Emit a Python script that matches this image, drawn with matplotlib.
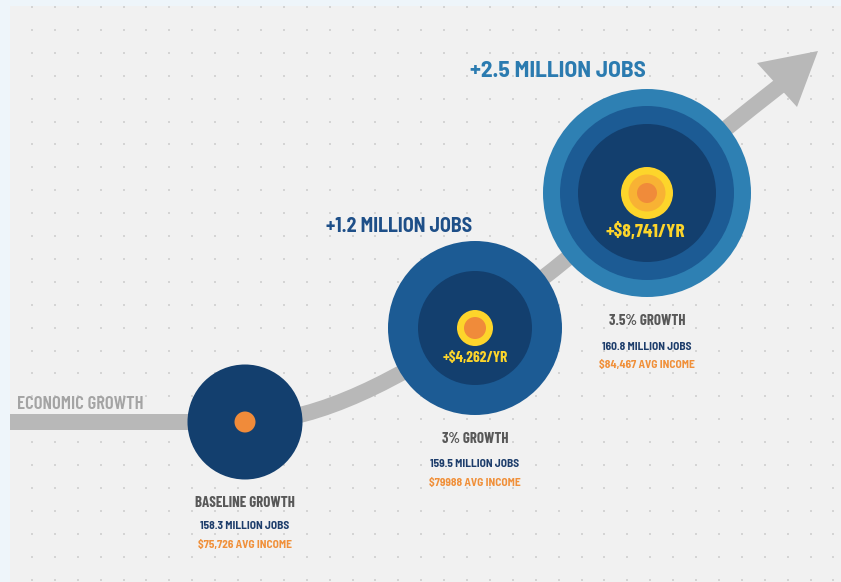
import numpy as np
import matplotlib
matplotlib.use("Agg")
import matplotlib.pyplot as plt
from matplotlib.patches import Circle, Rectangle, Polygon, PathPatch
from matplotlib.path import Path

# ---- data ----
scenarios = ["BASELINE GROWTH", "3% GROWTH", "3.5% GROWTH"]
jobs_millions = [158.3, 159.5, 160.8]
income_labels = ["$75,726", "$79988", "$84,467"]
job_gain_millions = [None, 1.2, 2.5]
income_gain = [None, 4262, 8741]
axis_label = "ECONOMIC GROWTH"

# ---- style ----
FONT = ["Barlow Condensed", "Oswald", "DejaVu Sans"]
FONT_WIDE = ["Barlow Semi Condensed", "Barlow Condensed", "DejaVu Sans"]
BG_OUTER = "#eef5fa"
BG_PANEL = "#f1f1f1"
DOT = "#d4d4d4"
ARROW = "#b8b8b8"
NAVY = "#133f6e"
MID = "#1c5b94"
LIGHT = "#2e80b3"
YELLOW = "#fdd52b"
AMBER = "#f8b234"
ORANGE = "#f08b3a"
GRAY_TXT = "#585858"
JOBS_TXT = "#1d3d6b"
INC_TXT = "#f0903a"

fig = plt.figure(figsize=(8.41, 5.82), dpi=100)
fig.patch.set_facecolor(BG_OUTER)
ax = fig.add_axes([0, 0, 1, 1])
ax.set_xlim(0, 841)
ax.set_ylim(582, 0)
ax.axis("off")

# panel and dotted grid
ax.add_patch(Rectangle((10, 6), 831, 576, facecolor=BG_PANEL, edgecolor="none", zorder=0))
gx = np.arange(32, 841, 22.9)
gy = np.arange(7, 582, 22.9)
GX, GY = np.meshgrid(gx, gy)
ax.scatter(GX.ravel(), GY.ravel(), s=1.6, color=DOT, marker="s", linewidths=0, zorder=1)

# bubble layout
centers = [(245, 422), (475, 328), (647, 193)]
rings = [
    [(57.5, NAVY), (10.5, ORANGE)],
    [(87, MID), (57, NAVY), (18, YELLOW), (11, ORANGE)],
    [(104, LIGHT), (87, MID), (69, NAVY), (26, YELLOW), (18.5, AMBER), (10, ORANGE)],
]

# growth arrow
verts = [(10, 422), (250, 422),
         (320, 421), (400, 378), centers[1],
         (540, 283), (590, 240), centers[2],
         (700, 149), (740, 117), (782, 84)]
codes = [Path.MOVETO, Path.LINETO,
         Path.CURVE4, Path.CURVE4, Path.CURVE4,
         Path.CURVE4, Path.CURVE4, Path.CURVE4,
         Path.CURVE4, Path.CURVE4, Path.CURVE4]
ax.add_patch(PathPatch(Path(verts, codes), facecolor="none", edgecolor=ARROW,
                       lw=11.5, capstyle="butt", zorder=2))
ax.add_patch(Polygon([(818, 51), (757, 63), (797, 107)], closed=True,
                     facecolor=ARROW, edgecolor="none", zorder=2))
ax.text(17, 409, axis_label, fontsize=13.6, color="#a4a4a4", fontweight="semibold",
        family=FONT, ha="left", va="baseline", zorder=7)

for (cx, cy), rr in zip(centers, rings):
    for r, c in rr:
        ax.add_patch(Circle((cx, cy), r, facecolor=c, edgecolor="none", zorder=4))

# labels below bubbles (baselines)
label_y = [(507, 529, 548), (443, 467, 486), (325, 350, 368)]
for (cx, _), name, jobs, inc, (y1, y2, y3) in zip(centers, scenarios, jobs_millions,
                                                   income_labels, label_y):
    ax.text(cx, y1, name, fontsize=10.8, color=GRAY_TXT, fontweight="bold",
            family=FONT, ha="center", va="baseline", zorder=5)
    ax.text(cx, y2, f"{jobs:.1f} MILLION JOBS", fontsize=8.2, color=JOBS_TXT,
            fontweight="bold", family=FONT_WIDE, ha="center", va="baseline", zorder=5)
    ax.text(cx, y3, f"{inc} AVG INCOME", fontsize=8.2, color=INC_TXT,
            fontweight="bold", family=FONT_WIDE, ha="center", va="baseline", zorder=5)

# income gain inside bubbles
gain_pos = [None, (475, 362, 11.1), (645, 237, 14)]
for g, pos in zip(income_gain, gain_pos):
    if g is None:
        continue
    x, y, fs = pos
    ax.text(x, y, f"+${g:,}/YR", fontsize=fs, color=YELLOW, fontweight="bold",
            family=FONT, ha="center", va="baseline", zorder=6)

# job gain headings
head_pos = [None, (326, 232, 14.4, "#1e4f88"), (470, 77, 16.9, "#2b7bb0")]
for jg, pos in zip(job_gain_millions, head_pos):
    if jg is None:
        continue
    x, y, fs, col = pos
    ax.text(x, y, f"+{jg} MILLION JOBS", fontsize=fs, color=col, fontweight="bold",
            family=FONT_WIDE, ha="left", va="baseline", zorder=5)

fig.savefig("out.png", dpi=100, facecolor=fig.get_facecolor())
